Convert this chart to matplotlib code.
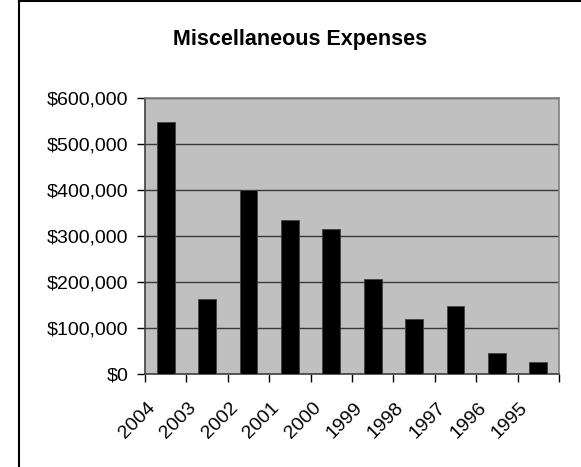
import matplotlib
matplotlib.use('Agg')
import matplotlib.pyplot as plt
import matplotlib.ticker as ticker
from matplotlib.lines import Line2D

plt.rcParams['font.family'] = ['Liberation Sans', 'DejaVu Sans']

# values
years    = ['2004', '2003', '2002', '2001', '2000', '1999', '1998', '1997', '1996', '1995']
expenses = [547000, 164000, 399000, 335000, 315000, 207000, 120000, 148000, 46000, 26000]

fig = plt.figure(figsize=(5.81, 4.67), dpi=100)
fig.patch.set_facecolor('white')
ax = fig.add_axes([0.2496, 0.1991, 0.9621 - 0.2496, 0.7901 - 0.1991])
ax.set_facecolor('#C0C0C0')

x = list(range(len(years)))
ax.bar(x, expenses, width=0.43, color='black', edgecolor='#404040', linewidth=0.6, zorder=3)

ax.set_xlim(-0.5, len(years) - 0.5)
ax.set_ylim(0, 600000)
ax.yaxis.set_major_locator(ticker.MultipleLocator(100000))
ax.yaxis.set_major_formatter(ticker.FuncFormatter(lambda v, _: f'${int(v):,}'))
ax.yaxis.grid(True, color='#383838', linewidth=1.0, zorder=1)
ax.set_axisbelow(True)

# ticks on category boundaries, labels slightly left of category centres
ax.set_xticks([i - 0.5 for i in range(len(years) + 1)])
ax.set_xticklabels([])
ax.set_xticks([i - 0.17 for i in x], minor=True)
ax.set_xticklabels(years, minor=True, rotation=45, ha='right', va='top', fontsize=14)
ax.tick_params(axis='x', which='minor', length=0, pad=18)
ax.tick_params(axis='x', which='major', direction='out', length=6, width=1, color='black')
ax.tick_params(axis='y', direction='out', length=6, width=1, color='black', labelsize=14, pad=6)

for side in ['top', 'right']:
    ax.spines[side].set_color('#808080')
    ax.spines[side].set_linewidth(1.2)
for side in ['left', 'bottom']:
    ax.spines[side].set_color('#404040')
    ax.spines[side].set_linewidth(1.2)

fig.text(0.5164, 1 - 45 / 467, 'Miscellaneous Expenses', ha='center', va='baseline',
         fontsize=15.5, fontweight='bold', color='black')

# chart frame (only left and top edges visible in the crop)
fig.add_artist(Line2D([0.0327, 0.0327], [0.0, 0.9968], transform=fig.transFigure,
                      color='black', linewidth=1.5))
fig.add_artist(Line2D([0.0327, 1.0], [0.9968, 0.9968], transform=fig.transFigure,
                      color='black', linewidth=1.5))

plt.savefig('out.png', dpi=100, facecolor='white')
